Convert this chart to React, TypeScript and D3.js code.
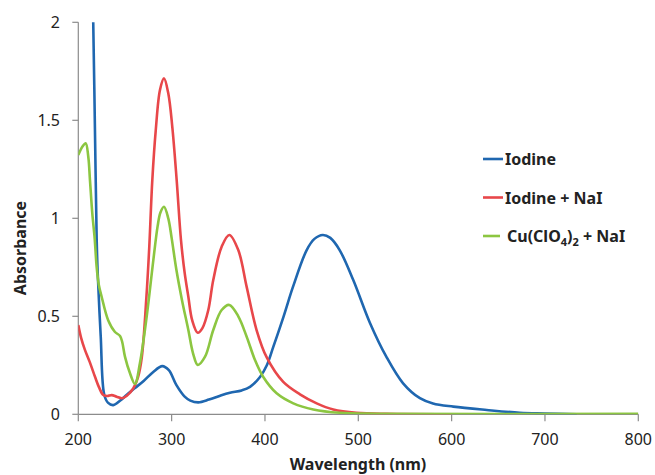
import * as d3 from "d3";

type Pt = [number, number];

// wavelength (nm), absorbance
const iodine: Pt[] = [
  [214, 2.4], [216, 2.0], [218, 1.4], [219.7, 0.89], [220.8, 0.72], [224, 0.4],
  [227.8, 0.1], [232, 0.058], [237.5, 0.047], [245, 0.07], [252, 0.1], [260.7, 0.134],
  [270, 0.17], [280, 0.215], [290, 0.246], [297, 0.225], [305, 0.15], [314, 0.09],
  [320, 0.07], [328.6, 0.061], [340, 0.075], [352, 0.095], [362.5, 0.11], [375, 0.122],
  [384, 0.14], [394.7, 0.19], [402, 0.25], [409, 0.345], [420, 0.5], [430, 0.65],
  [444.7, 0.838], [453, 0.895], [461.9, 0.915], [470, 0.9], [480, 0.838], [494.6, 0.685],
  [512.5, 0.466], [530, 0.294], [548, 0.158], [566, 0.082],
  [580, 0.055], [601.8, 0.039], [637.6, 0.022], [673, 0.008], [700, 0.004], [734, 0.0],
];

const iodineNaI: Pt[] = [
  [200, 0.455], [203, 0.39], [207, 0.33], [212, 0.27], [218, 0.19], [222, 0.14],
  [226.8, 0.098], [231, 0.093], [235.8, 0.098], [241, 0.09], [246.5, 0.082], [252, 0.095],
  [259, 0.133], [264, 0.19], [268, 0.29], [273, 0.6], [276, 0.85], [279.3, 1.195],
  [283, 1.45], [287.5, 1.655], [291.8, 1.714], [296.4, 1.638], [300.7, 1.467], [305.4, 1.195],
  [310, 0.89], [314, 0.72], [317.9, 0.6], [322, 0.48], [328, 0.416], [333, 0.44],
  [339.3, 0.532], [344.6, 0.685], [353.6, 0.855], [361.8, 0.915], [371.4, 0.838], [380.4, 0.65],
  [391, 0.43], [401.9, 0.29], [419.6, 0.165], [437.5, 0.102], [455.4, 0.056],
  [473.2, 0.025], [498, 0.008], [530, 0.002], [600, 0.0],
];

const cuNaI: Pt[] = [
  [200, 1.323], [204.3, 1.365], [207.9, 1.383], [210.7, 1.314], [212.5, 1.195], [215, 1.025],
  [217.5, 0.9], [219.7, 0.75], [222, 0.66], [225, 0.6], [232, 0.48], [239.3, 0.42],
  [244.7, 0.4], [247, 0.37], [250, 0.294], [255.4, 0.209], [260.7, 0.155], [266, 0.26],
  [273.3, 0.5], [280.4, 0.787], [285, 0.96], [288, 1.03], [291.8, 1.059], [296.4, 1.0],
  [300, 0.9], [305, 0.74], [311, 0.585], [317.9, 0.43], [323, 0.31], [328, 0.252],
  [335.8, 0.294], [344.6, 0.43], [353.6, 0.532], [361.8, 0.558], [371.4, 0.5], [380.4, 0.396],
  [389.3, 0.277], [398.2, 0.19], [412.5, 0.107], [430.4, 0.056], [451.8, 0.025], [480, 0.008],
  [520, 0.003], [800, 0.002],
];

const xTicks = [200, 300, 400, 500, 600, 700, 800];
const yTicks = [0, 0.5, 1, 1.5, 2];

const series = [
  { name: "Iodine", data: iodine, color: "#1f67b0" },
  { name: "Iodine + NaI", data: iodineNaI, color: "#e8474a" },
  { name: "Cu(ClO4)2 + NaI", data: cuNaI, color: "#8cc641" },
];

const W = 655;
const H = 475;
const font = "'Noto Sans', 'Open Sans', sans-serif";

export default function App() {
  const x = d3.scaleLinear().domain([200, 800]).range([78.3, 638.3]);
  const y = d3.scaleLinear().domain([0, 2]).range([414.3, 22.3]);

  const line = d3
    .line<Pt>()
    .x(d => x(d[0]))
    .y(d => y(d[1]))
    .curve(d3.curveCatmullRom.alpha(0.5));

  const axisColor = "#8c8c8c";

  return (
    <svg
      width={W}
      height={H}
      style={{ position: "absolute", left: 0, top: 0, background: "#fff" }}
      fontFamily={font}
    >
      <defs>
        <clipPath id="plot">
          <rect x={x(200)} y={y(2)} width={x(800) - x(200)} height={y(0) - y(2)} />
        </clipPath>
      </defs>

      {/* y axis */}
      <line x1={x(200)} x2={x(200)} y1={y(0)} y2={y(2)} stroke={axisColor} strokeWidth={1.2} />
      {yTicks.map(t => (
        <g key={t}>
          <line x1={x(200) - 6} x2={x(200)} y1={y(t)} y2={y(t)} stroke={axisColor} strokeWidth={1.2} />
          <text x={60} y={y(t) + 5.5} textAnchor="end" fontSize={16} fill="#222">
            {t}
          </text>
        </g>
      ))}

      {/* x axis */}
      <line x1={x(200)} x2={x(800)} y1={y(0)} y2={y(0)} stroke={axisColor} strokeWidth={1.2} />
      {xTicks.map(t => (
        <g key={t}>
          <line x1={x(t)} x2={x(t)} y1={y(0)} y2={y(0) + 7} stroke={axisColor} strokeWidth={1.2} />
          <text x={x(t)} y={445} textAnchor="middle" fontSize={16} fill="#222">
            {t}
          </text>
        </g>
      ))}

      {/* curves */}
      <g clipPath="url(#plot)">
        {series.map(s => (
          <path key={s.name} d={line(s.data) ?? ""} fill="none" stroke={s.color} strokeWidth={2.6} strokeLinejoin="round" />
        ))}
      </g>

      {/* axis titles */}
      <text x={358} y={470} textAnchor="middle" fontSize={16} fontWeight="bold" fill="#222">
        Wavelength (nm)
      </text>
      <text
        transform={`translate(26,248) rotate(-90)`}
        textAnchor="middle"
        fontSize={16}
        fontWeight="bold"
        fill="#222"
      >
        Absorbance
      </text>

      {/* legend */}
      {series.map((s, i) => {
        const ly = 159 + i * 38.5;
        return (
          <g key={s.name}>
            <line x1={483} x2={i === 2 ? 500 : 503} y1={ly} y2={ly} stroke={s.color} strokeWidth={2.6} />
            <text x={i === 2 ? 507 : 505} y={ly + 6} fontSize={16} fontWeight="bold" fill="#222">
              {i === 2 ? (
                <>
                  Cu(ClO<tspan fontSize={11} dy={4}>4</tspan>
                  <tspan dy={-4}>)</tspan>
                  <tspan fontSize={11} dy={4}>2</tspan>
                  <tspan dy={-4}> + NaI</tspan>
                </>
              ) : (
                s.name
              )}
            </text>
          </g>
        );
      })}
    </svg>
  );
}
